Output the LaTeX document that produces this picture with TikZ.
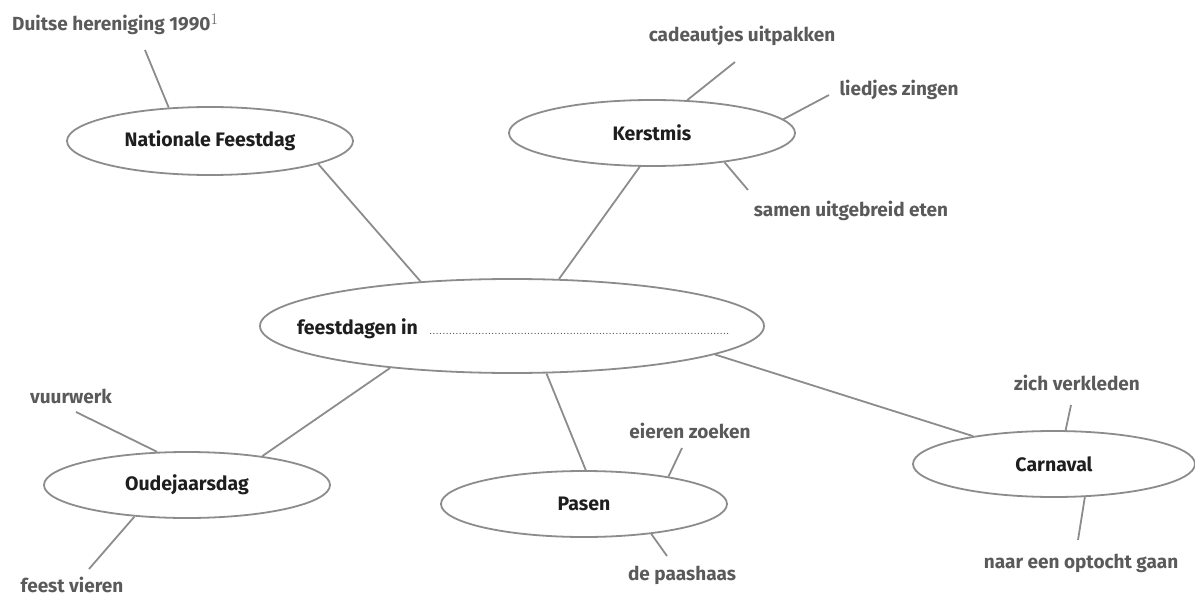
\documentclass[tikz,border=0pt]{standalone}
\usepackage{fontspec}
\newfontfamily\hand{Fira Sans}
\usetikzlibrary{shapes.geometric}
\definecolor{linegray}{HTML}{8C8C8C}
\definecolor{textgray}{HTML}{5A5A5A}
\definecolor{labelblack}{HTML}{1E1E1E}
\tikzset{
  bubble/.style={ellipse, draw=linegray, line width=1.8pt, fill=white, inner sep=0pt,
    minimum width=286pt, minimum height=66pt,
    font=\hand\bfseries\fontsize{19.5}{22}\selectfont, text=labelblack},
  item/.style={font=\hand\bfseries\fontsize{19}{22}\selectfont, text=textgray, inner sep=0pt},
  link/.style={draw=linegray, line width=1.8pt},
}
\begin{document}
\begin{tikzpicture}[x=1pt,y=-1pt]
\useasboundingbox (0,0) rectangle (1195,602);
% bubbles
\node[bubble, minimum height=68pt] (nat) at (210,141) {Nationale Feestdag};
\node[bubble] (kers) at (652,133) {Kerstmis};
\node[bubble, minimum width=504pt, minimum height=94pt] (cen) at (512,326) {};
\node[bubble, minimum width=282pt] (carn) at (1054,464) {Carnaval};
\node[bubble] (oude) at (187,485) {Oudejaarsdag};
\node[bubble] (pasen) at (584,504) {Pasen};
% central label
\node[anchor=base west, inner sep=0pt, font=\hand\bfseries\fontsize{19.5}{22}\selectfont, text=labelblack] (cenlabel) at (297,334) {feestdagen in};
\node[anchor=base west, inner sep=0pt, text=black!80, font=\fontsize{12}{14}\selectfont] (cendots) at (429,334) {............................................................................................};
% items
\node[item, anchor=west] (duitse) at (12,24) {Duitse hereniging 1990\raisebox{6pt}{\normalfont\fontsize{16}{18}\selectfont 1}};
\node[item] (cadeau) at (742,36) {cadeautjes uitpakken};
\node[item] (liedjes) at (899,90) {liedjes zingen};
\node[item] (samen) at (851,211) {samen uitgebreid eten};
\node[item] (zich) at (1077,383) {zich verkleden};
\node[item] (optocht) at (1081,563) {naar een optocht gaan};
\node[item] (vuurwerk) at (71,396) {vuurwerk};
\node[item] (feest) at (72,585) {feest vieren};
\node[item] (eieren) at (690,431) {eieren zoeken};
\node[item] (paashaas) at (682,575) {de paashaas};
% free ends
\coordinate (eDuitse) at (145,50);
\coordinate (eCadeau) at (735,62);
\coordinate (eLiedjes) at (829,95);
\coordinate (eSamen) at (748,190);
\coordinate (eZich) at (1071,405);
\coordinate (eOptocht) at (1078,540);
\coordinate (eVuurwerk) at (76,412);
\coordinate (eFeest) at (89,569);
\coordinate (eEieren) at (682,448);
\coordinate (ePaashaas) at (667,556);
% connectors
\draw[link] (eDuitse) -- (nat.141.8);
\draw[link] (nat.-12.9) -- (cen.154.9);
\draw[link] (kers.-110) -- (cen.45.6);
\draw[link] (eCadeau) -- (kers.43.3);
\draw[link] (eLiedjes) -- (kers.6.1);
\draw[link] (kers.-22.9) -- (eSamen);
\draw[link] (cen.-8.6) -- (carn.161.8);
\draw[link] (eZich) -- (carn.71);
\draw[link] (carn.-47.7) -- (eOptocht);
\draw[link] (cen.-161) -- (oude.21);
\draw[link] (eVuurwerk) -- (oude.132.3);
\draw[link] (oude.-149.4) -- (eFeest);
\draw[link] (cen.-54.9) -- (pasen.87);
\draw[link] (eEieren) -- (pasen.18.2);
\draw[link] (pasen.-24.5) -- (ePaashaas);
\end{tikzpicture}
\end{document}
